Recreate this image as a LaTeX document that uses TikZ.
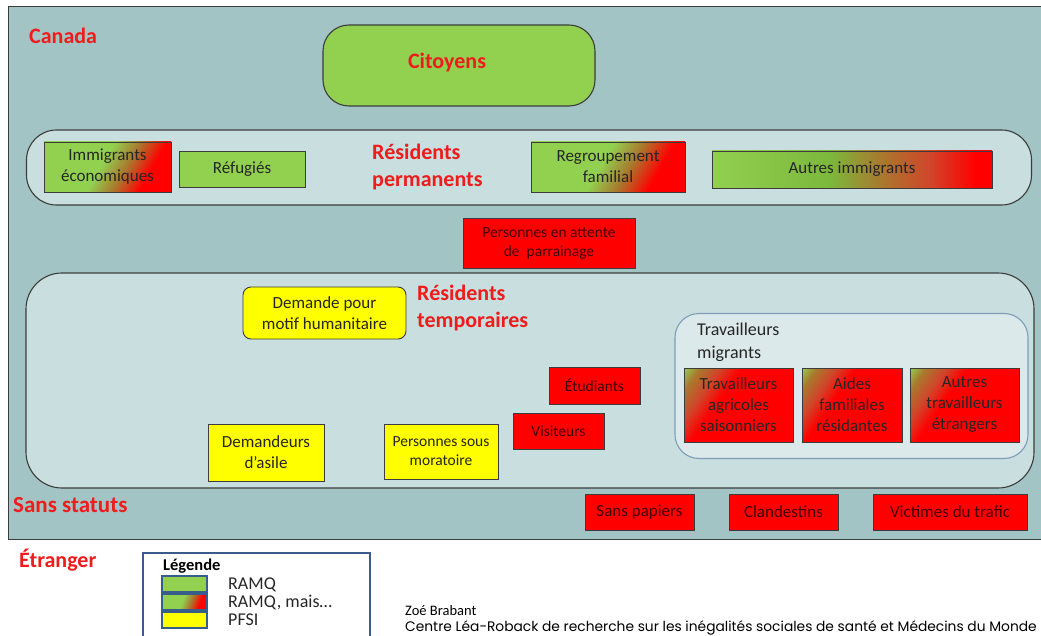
\documentclass[tikz,border=0pt]{standalone}
\usepackage{fontspec}
\setmainfont{Carlito}
\newfontfamily\geofont{Poppins}
\definecolor{bgc}{HTML}{A3C4C4}
\definecolor{bandc}{HTML}{C9DEDE}
\definecolor{tmc}{HTML}{DCE9EA}
\definecolor{tmline}{HTML}{7F9DB9}
\definecolor{grn}{HTML}{92D050}
\definecolor{grnd}{HTML}{7CB83C}
\definecolor{rd}{HTML}{FF0000}
\definecolor{yel}{HTML}{FFFF00}
\definecolor{mixc}{HTML}{A87A2E}
\definecolor{mixo}{HTML}{D0452A}
\definecolor{lineg}{HTML}{3C3C3C}
\definecolor{legline}{HTML}{385D8A}
\definecolor{lbl}{HTML}{EE1C1C}
\pgfdeclarehorizontalshading{gradA}{100bp}{color(0bp)=(grn); color(25bp)=(grn); color(47bp)=(grn); color(58bp)=(mixc); color(70bp)=(rd); color(100bp)=(rd)}
\pgfdeclarehorizontalshading{gradB}{100bp}{color(0bp)=(grn); color(25bp)=(grn); color(46bp)=(grnd); color(55bp)=(mixc); color(64bp)=(mixo); color(72bp)=(rd); color(100bp)=(rd)}
\pgfdeclarehorizontalshading{gradW}{100bp}{color(0bp)=(grn); color(15bp)=(grn); color(22bp)=(mixc); color(31bp)=(mixo); color(40bp)=(rd); color(100bp)=(rd)}
\newcommand\mybox[7]{\node[box,#6,minimum width={#4-#2},minimum height={#5-#3}] (#1) at ({(#2+#4)/2},{(#3+#5)/2}) {#7};}
\tikzset{
  box/.style={draw=lineg, line width=0.9pt, align=center, inner sep=1pt,
    font=\fontsize{17}{21}\selectfont, text=black!85},
  sfont/.style={font=\fontsize{15.5}{19}\selectfont},
  redbox/.style={fill=rd, text=black!75!red},
  grnbox/.style={fill=grn},
  yelbox/.style={fill=yel},
  mixA/.style={shading=gradA, shading angle=-30},
  mixB/.style={shading=gradB, shading angle=0},
  mixW/.style={shading=gradW, shading angle=-35},
  band/.style={draw=lineg, line width=1.1pt, fill=bandc},
  redlbl/.style={text=lbl, font=\bfseries\fontsize{22}{27}\selectfont, align=left, inner sep=0pt, anchor=west},
  txt/.style={inner sep=0pt, anchor=west, align=left, text=black!85},
  swatch/.style={draw=legline, line width=2.2pt, minimum width=45, minimum height=16, inner sep=0pt}
}
\begin{document}
\begin{tikzpicture}[x=1pt,y=-1pt]
\useasboundingbox (0,0) rectangle (1041,636);
\clip (0,0) rectangle (1041,636);
% outer frame
\node[draw=lineg, fill=bgc, line width=1pt, minimum width=1050, minimum height=532, inner sep=0pt] (canada) at (533,273) {};
% citoyens
\node[draw=lineg, fill=grn, line width=1.1pt, rounded corners=26pt, minimum width=272, minimum height=81, inner sep=0pt] (cit) at (459,65.5) {};
\node[redlbl, anchor=center] (citt) at (447,63) {Citoyens};
% bands
\node[band, rounded corners=30pt, minimum width=1005, minimum height=75, inner sep=0pt] (perm) at (529,167.5) {};
\node[band, rounded corners=36pt, minimum width=1008, minimum height=215, inner sep=0pt] (temp) at (530,380.5) {};
\node[draw=tmline, line width=1.1pt, fill=tmc, rounded corners=24pt, minimum width=353, minimum height=145, inner sep=0pt] (tm) at (851.5,386) {};
% labels
\node[redlbl] (lcan) at (29,36) {Canada};
\node[redlbl] (lperm) at (372,167) {Résidents\\permanents};
\node[redlbl] (ltemp) at (417,308.5) {Résidents\\temporaires};
\node[redlbl, font=\bfseries\fontsize{23}{27}\selectfont] (lsans) at (13,505) {Sans statuts};
\node[redlbl] (letr) at (19,560) {Étranger};
\node[txt, font=\fontsize{18}{23}\selectfont] (ltm) at (697,342.5) {Travailleurs\\migrants};
% permanent residents
\mybox{imm}{44}{142}{171}{192}{mixA}{Immigrants\\économiques}
\mybox{ref}{179}{151}{305}{187}{grnbox}{Réfugiés}
\mybox{reg}{531}{142}{685}{192}{mixA}{Regroupement\\familial}
\mybox{aut}{712}{151}{992}{188}{mixB}{Autres immigrants}
\mybox{par}{463}{218}{635}{268}{redbox,sfont}{Personnes en attente\\de~ parrainage}
% temporary residents
\mybox{hum}{243}{287}{406}{339}{yelbox,rounded corners=8pt}{Demande pour\\motif humanitaire}
\mybox{etu}{549}{367}{640}{404}{redbox,sfont}{Étudiants}
\mybox{vis}{513}{413}{604}{449}{redbox,sfont}{Visiteurs}
\mybox{asi}{208}{424}{324}{481}{yelbox}{Demandeurs\\d’asile}
\mybox{mor}{384}{424}{498}{479}{yelbox,sfont}{Personnes sous\\moratoire}
\mybox{agr}{684}{368}{793}{442}{mixW}{Travailleurs\\agricoles\\saisonniers}
\mybox{aid}{802}{368}{902}{442}{mixW}{Aides\\familiales\\résidantes}
\mybox{atr}{910}{368}{1019}{442}{mixW}{Autres\\travailleurs\\étrangers}
% sans statut
\mybox{pap}{585}{494}{694}{530}{redbox}{Sans papiers}
\mybox{cla}{729}{494}{838}{530}{redbox}{Clandestins}
\mybox{vic}{873}{494}{1027}{530}{redbox}{Victimes du trafic}
% legend
\node[draw=legline, line width=2.2pt, minimum width=227, minimum height=100, inner sep=0pt] (leg) at (256.5,603) {};
\node[txt, font=\bfseries\fontsize{16.5}{20}\selectfont, text=black] (legt) at (163,566) {Légende};
\node[swatch, fill=grn] (s1) at (184.5,584) {};
\node[swatch, shading=gradA, shading angle=-20] (s2) at (184.5,602) {};
\node[swatch, fill=yel] (s3) at (184.5,620) {};
\node[txt, font=\fontsize{18}{20}\selectfont] (t1) at (228,585) {RAMQ};
\node[txt, font=\fontsize{18}{20}\selectfont] (t2) at (228,602) {RAMQ, mais…};
\node[txt, font=\fontsize{18}{20}\selectfont] (t3) at (228,620) {PFSI};
% credits
\node[txt, font=\fontsize{14.5}{17}\selectfont, text=black] (zoe) at (405,611) {Zoé Brabant};
\node[txt, font=\geofont\fontsize{13.8}{15}\selectfont, text=black] (cen) at (405,628) {Centre Léa-Roback de recherche sur les inégalités sociales de santé et Médecins du Monde};
\end{tikzpicture}
\end{document}
